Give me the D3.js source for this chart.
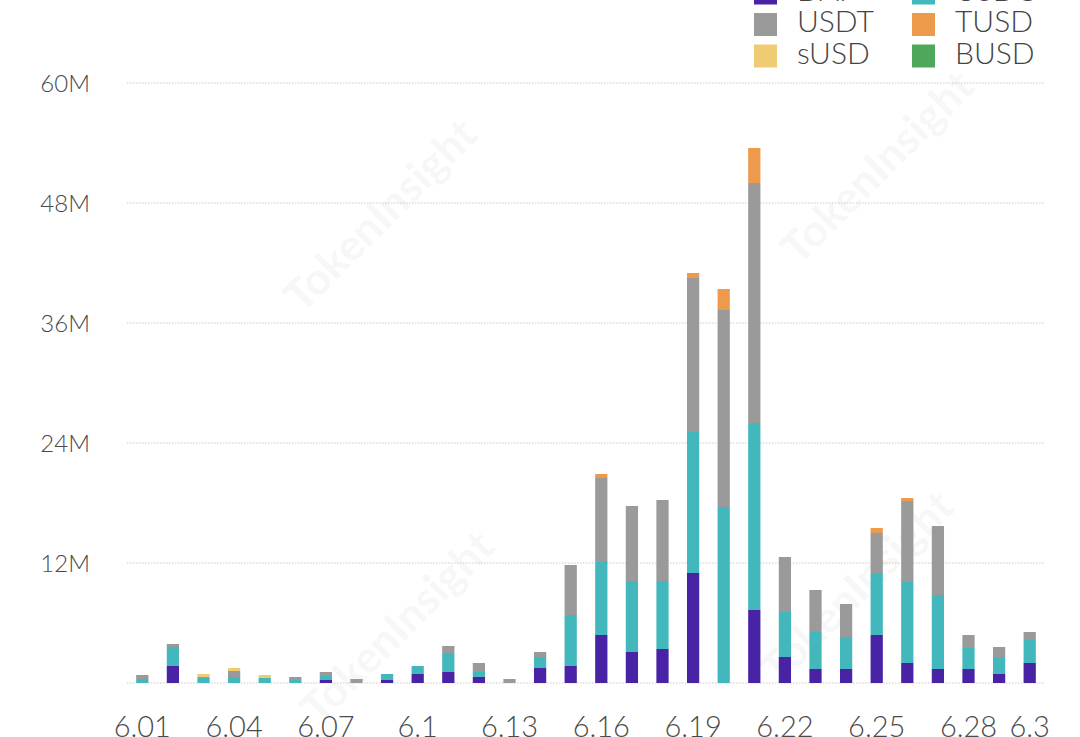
<!DOCTYPE html>
<html>
<head>
<meta charset="utf-8">
<script src="https://cdn.jsdelivr.net/npm/d3@7"></script>
<style>
  html, body { margin: 0; padding: 0; background: #fff; }
  svg { display: block; }
  text { font-family: Lato, "Open Sans", sans-serif; }
</style>
</head>
<body>
<svg id="chart" width="1080" height="737"></svg>
<script>
const categories = ["6.01","6.02","6.03","6.04","6.05","6.06","6.07","6.08","6.09","6.1",
  "6.11","6.12","6.13","6.14","6.15","6.16","6.17","6.18","6.19","6.2",
  "6.21","6.22","6.23","6.24","6.25","6.26","6.27","6.28","6.29","6.3"];
const tickLabels = ["6.01","6.04","6.07","6.1","6.13","6.16","6.19","6.22","6.25","6.28","6.3"];
const seriesNames = ["DAI","USDC","USDT","TUSD","sUSD","BUSD"];
const seriesColors = ["#4823a6","#42b8bd","#9a9a9a","#ee9a4c","#efcb74","#4ea85b"];

// values in millions
const DAI  = [0,1.7,0,0,0,0,0.3,0,0.3,0.9, 1.1,0.6,0,1.5,1.7,4.8,3.1,3.4,11.0,0, 7.3,2.6,1.4,1.4,4.8,2.0,1.4,1.4,0.9,2.0];
const USDC = [0.4,1.9,0.5,0.6,0.5,0.3,0.4,0,0.6,0.8, 1.9,0.5,0,1.1,5.1,7.3,7.1,6.8,14.1,17.6, 18.7,4.5,3.7,3.2,6.2,8.1,7.4,2.1,1.7,2.3];
const USDT = [0.4,0.3,0.1,0.6,0,0.3,0.4,0.4,0,0, 0.7,0.9,0.4,0.5,5.0,8.4,7.5,8.1,15.4,19.7, 24.0,5.5,4.2,3.3,4.0,8.1,6.9,1.3,1.0,0.8];
const TUSD = [0,0,0,0,0,0,0,0,0,0, 0,0,0,0,0,0.4,0,0,0.5,2.1, 3.5,0,0,0,0.5,0.3,0,0,0,0];
const sUSD = [0,0,0.3,0.3,0.3,0,0,0,0,0, 0,0,0,0,0,0,0,0,0,0, 0,0,0,0,0,0,0,0,0,0];
const BUSD = [0,0,0,0,0,0,0,0,0,0, 0,0,0,0,0,0,0,0,0,0, 0,0,0,0,0,0,0,0,0,0];
const yTicks = [0,12,24,36,48,60];

const seriesData = {DAI, USDC, USDT, TUSD, sUSD, BUSD};
const table = categories.map((c, i) => {
  const row = {cat: c};
  seriesNames.forEach(n => row[n] = seriesData[n][i]);
  return row;
});

const svg = d3.select("#chart");
const mLeft = 127, mRight = 1045, mTop = 83, mBottom = 683;

// watermark
const wm = svg.append("g").attr("fill", "#000").attr("fill-opacity", 0.04)
  .attr("font-weight", 900).attr("font-size", 44);
[[383,218],[880,170],[400,630],[860,590]].forEach(p => {
  wm.append("text").attr("x", p[0]).attr("y", p[1]).attr("text-anchor","middle")
    .attr("dominant-baseline","middle")
    .attr("transform", `rotate(-45 ${p[0]} ${p[1]})`).text("TokenInsight");
});

const x = d3.scaleBand().domain(categories).range([mLeft, mRight])
  .paddingInner(0.6).paddingOuter(0.3);
const y = d3.scaleLinear().domain([0, 60]).range([mBottom, mTop]);

// grid
const grid = svg.append("g");
grid.selectAll("line").data(yTicks).join("line")
  .attr("x1", mLeft).attr("x2", mRight)
  .attr("y1", d => y(d)).attr("y2", d => y(d))
  .attr("stroke", "#c8c8c8").attr("stroke-width", 1)
  .attr("stroke-dasharray", "1.5,1.5");

// y axis labels
const yAxis = d3.axisLeft(y).tickValues(yTicks.filter(d => d > 0))
  .tickFormat(d => d + "M").tickSize(0).tickPadding(0);
const yg = svg.append("g").attr("transform", "translate(90,0)").call(yAxis);
yg.select(".domain").remove();
yg.selectAll("text").attr("font-size", 24).attr("fill", "#4a4a4a")
  .attr("font-family", "Lato, sans-serif").attr("font-weight", 300).attr("dy", "0.36em");

// stacked bars
const stack = d3.stack().keys(seriesNames)(table);
const color = d3.scaleOrdinal().domain(seriesNames).range(seriesColors);
svg.append("g").selectAll("g").data(stack).join("g")
  .attr("fill", d => color(d.key))
  .selectAll("rect").data(d => d).join("rect")
  .attr("x", d => x(d.data.cat))
  .attr("width", x.bandwidth())
  .attr("y", d => y(d[1]))
  .attr("height", d => Math.max(0, y(d[0]) - y(d[1])));

// x axis labels
const xAxis = d3.axisBottom(x).tickValues(tickLabels).tickSize(0).tickPadding(0);
const xg = svg.append("g").attr("transform", `translate(0,${mBottom})`).call(xAxis);
xg.select(".domain").remove();
xg.selectAll("text").attr("font-size", 29).attr("fill", "#4a4a4a")
  .attr("font-family", "Lato, sans-serif").attr("font-weight", 300)
  .attr("dy", null).attr("y", 54);

// legend
const legend = svg.append("g");
const legPos = [[754,-7],[912,-7],[754,24.5],[912,24.5],[754,56],[912,56]];
seriesNames.forEach((n, i) => {
  const [lx, ly] = legPos[i];
  legend.append("rect").attr("x", lx).attr("y", ly - 11.5).attr("width", 23).attr("height", 23)
    .attr("fill", color(n));
  legend.append("text").attr("x", lx + 43).attr("y", ly - 3).attr("dy", "0.36em")
    .attr("font-size", 30).attr("font-weight", 300).attr("fill", "#444").text(n);
});
</script>
</body>
</html>
